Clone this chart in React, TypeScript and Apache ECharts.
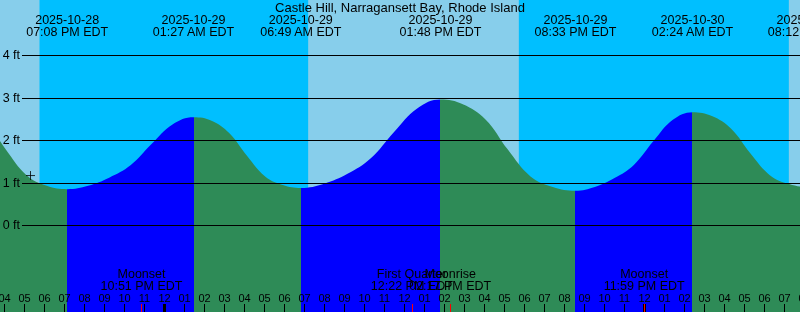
import { useEffect, useRef } from "react";
import * as echarts from "echarts";

const TITLE = "Castle Hill, Narragansett Bay, Rhode Island";

// High / low tide events (EDT wall-clock) and heights in ft
const extremeTimes = [
  "2025-10-28 13:02",
  "2025-10-28 19:08",
  "2025-10-29 01:27",
  "2025-10-29 06:49",
  "2025-10-29 13:48",
  "2025-10-29 20:33",
  "2025-10-30 02:24",
  "2025-10-30 08:12",
];
const extremeHeights = [2.9, 0.85, 2.54, 0.88, 2.96, 0.81, 2.66, 0.9];

// Tide curve readings (events plus points read between them), ft
const curveTimes = [
  "2025-10-28 12:00",
  "2025-10-28 13:02", "2025-10-28 14:03", "2025-10-28 15:04", "2025-10-28 16:05", "2025-10-28 17:06", "2025-10-28 18:07",
  "2025-10-28 19:08", "2025-10-28 20:11", "2025-10-28 21:14", "2025-10-28 22:18", "2025-10-28 23:21", "2025-10-29 00:24",
  "2025-10-29 01:27", "2025-10-29 02:21", "2025-10-29 03:14", "2025-10-29 04:08", "2025-10-29 05:02", "2025-10-29 05:55",
  "2025-10-29 06:49", "2025-10-29 07:59", "2025-10-29 09:09", "2025-10-29 10:18", "2025-10-29 11:28", "2025-10-29 12:38",
  "2025-10-29 13:48", "2025-10-29 14:55", "2025-10-29 16:03", "2025-10-29 17:10", "2025-10-29 18:18", "2025-10-29 19:25",
  "2025-10-29 20:33", "2025-10-29 21:31", "2025-10-29 22:30", "2025-10-29 23:28", "2025-10-30 00:27", "2025-10-30 01:25",
  "2025-10-30 02:24", "2025-10-30 03:22", "2025-10-30 04:20", "2025-10-30 05:18", "2025-10-30 06:16", "2025-10-30 07:14",
  "2025-10-30 08:12",
  "2025-10-30 09:17",
];
const curveHeights = [
  2.7,
  2.9, 2.8, 2.45, 1.77, 1.18, 0.93,
  0.85, 0.93, 1.12, 1.41, 1.91, 2.37,
  2.54, 2.46, 2.17, 1.63, 1.15, 0.95,
  0.88, 0.98, 1.21, 1.57, 2.19, 2.75,
  2.96, 2.85, 2.49, 1.78, 1.15, 0.9,
  0.81, 0.9, 1.11, 1.42, 1.98, 2.48,
  2.66, 2.57, 2.27, 1.69, 1.18, 0.97,
  0.9,
  1.0,
];

// Night (sunset -> sunrise)
const nightStart = ["2025-10-28 17:45", "2025-10-29 17:43"];
const nightEnd = ["2025-10-29 07:11", "2025-10-30 07:13"];

// Moon events
const moonNames = ["Moonset", "First Quarter", "Moonrise", "Moonset"];
const moonTimes = ["2025-10-28 22:51", "2025-10-29 12:22", "2025-10-29 14:17", "2025-10-29 23:59"];

// "+" mark
const markTime = "2025-10-28 17:18";
const markLevel = 1.17;

// Level ticks (ft)
const levelTicks = [0, 1, 2, 3, 4];

const FONT = "Liberation Sans";
const BLUE = "#0000FF";
const GREEN = "#2E8B57";
const DAY = "#87CEEB";
const NIGHT = "#00BFFF";

// axis window in hours since 2025-10-29 00:00 EDT
const X_MIN = -8.225;
const X_MAX = X_MIN + 42; // grid extends 40px past right edge
const Y_MIN = -2.04;
const Y_MAX = 5.3;

const REF = Date.UTC(2025, 9, 29, 0, 0);
function toH(s: string): number {
  const y = +s.slice(0, 4);
  const mo = +s.slice(5, 7);
  const d = +s.slice(8, 10);
  const hh = +s.slice(11, 13);
  const mm = +s.slice(14, 16);
  return (Date.UTC(y, mo - 1, d, hh, mm) - REF) / 3600000;
}
const pad = (n: number) => String(n).padStart(2, "0");
function fmtTime(s: string): string {
  const hh = +s.slice(11, 13);
  const mm = s.slice(14, 16);
  const ap = hh >= 12 ? "PM" : "AM";
  const h12 = hh % 12 === 0 ? 12 : hh % 12;
  return `${pad(h12)}:${mm} ${ap} EDT`;
}

export default function App() {
  const ref = useRef<HTMLDivElement>(null);
  useEffect(() => {
    document.body.style.margin = "0";
    if (!ref.current) return;
    const chart = echarts.init(ref.current, undefined, { renderer: "svg" });

    const extH = extremeTimes.map(toH);
    const tideData = curveTimes.map((t, i) => [toH(t), curveHeights[i]]);
    const moonH = moonTimes.map(toH);
    const hourTicks: number[] = [];
    for (let h = Math.ceil(X_MIN); h <= Math.floor(X_MAX); h++) hourTicks.push(h);
    const midnights = hourTicks.filter((h) => ((h % 24) + 24) % 24 === 0);

    const pieces = extH.slice(0, -1).map((h, i) => {
      const p: any = {
        color: extremeHeights[i + 1] > extremeHeights[i] ? BLUE : GREEN,
      };
      if (i > 0) p.gte = h;
      if (i < extH.length - 2) p.lt = extH[i + 1];
      return p;
    });

    const txt = { color: "#000", fontFamily: FONT };
    const noLine = { show: false, onZero: false };
    const hiddenX = (grid: number) => ({
      gridIndex: grid, type: "value", min: X_MIN, max: X_MAX, show: false, axisLine: noLine,
    });

    const tickLines = [
      ...hourTicks.map((h) => ({ xAxis: h, lineStyle: { color: "#000", width: 1, type: "solid" } })),
      ...midnights.map((h) => ({ xAxis: h, lineStyle: { color: "#000", width: 3, type: "solid" } })),
      ...moonH.map((h) => ({ xAxis: h, lineStyle: { color: "#FF0000", width: 1, type: "solid" } })),
    ];

    chart.setOption({
      animation: false,
      title: {
        text: TITLE,
        left: "center",
        top: 1,
        padding: 0,
        textStyle: { ...txt, fontSize: 13, fontWeight: "normal", lineHeight: 13 },
      },
      grid: [
        {
          left: 0, right: -40, top: 0, bottom: 0,
          show: true, backgroundColor: DAY, borderWidth: 0,
          containLabel: false, outerBoundsMode: "none",
        },
        {
          left: 22, right: 0, top: 55.3, height: 170,
          containLabel: false, outerBoundsMode: "none",
        },
        {
          left: 0, right: -40, top: 304, height: 8,
          containLabel: false, outerBoundsMode: "none",
        },
      ],
      visualMap: [
        { type: "piecewise", show: false, dimension: 0, seriesIndex: 0, pieces },
      ],
      xAxis: [
        {
          gridIndex: 0, type: "value", min: X_MIN, max: X_MAX, position: "bottom", z: 10,
          axisLine: noLine, splitLine: { show: false }, axisTick: { show: false },
          axisLabel: {
            show: true, inside: true, margin: 8.5, customValues: hourTicks,
            showMinLabel: true, showMaxLabel: true,
            formatter: (v: number) => {
              const hod = ((Math.round(v) % 24) + 24) % 24;
              return pad(hod % 12 === 0 ? 12 : hod % 12);
            },
            ...txt, fontSize: 11, lineHeight: 12,
          },
        },
        {
          gridIndex: 0, type: "value", min: X_MIN, max: X_MAX, position: "bottom", z: 12,
          axisLine: noLine, splitLine: { show: false }, axisTick: { show: false },
          axisLabel: {
            show: true, inside: true, margin: 20.5, customValues: moonH,
            showMinLabel: true, showMaxLabel: true,
            formatter: (v: number) => {
              const i = moonH.findIndex((m) => Math.abs(m - v) < 1e-6);
              return i < 0 ? "" : `${moonNames[i]}\n${fmtTime(moonTimes[i])}`;
            },
            ...txt, fontSize: 12.5, lineHeight: 12,
          },
        },
        {
          gridIndex: 0, type: "value", min: X_MIN, max: X_MAX, position: "top", z: 10,
          axisLine: noLine, splitLine: { show: false }, axisTick: { show: false },
          axisLabel: {
            show: true, inside: true, margin: 13.6, customValues: extH,
            showMinLabel: true, showMaxLabel: true,
            formatter: (v: number) => {
              const i = extH.findIndex((m) => Math.abs(m - v) < 1e-6);
              return i < 0 ? "" : `${extremeTimes[i].slice(0, 10)}\n${fmtTime(extremeTimes[i])}`;
            },
            ...txt, fontSize: 12.5, lineHeight: 12,
          },
        },
        hiddenX(1),
        hiddenX(2),
      ],
      yAxis: [
        { gridIndex: 0, type: "value", min: Y_MIN, max: Y_MAX, show: false, axisLine: noLine },
        {
          gridIndex: 1, type: "value", min: levelTicks[0], max: levelTicks[levelTicks.length - 1], interval: 1, z: 10,
          axisLine: noLine, axisTick: { show: false },
          splitLine: { show: true, lineStyle: { color: "#000", width: 1 } },
          axisLabel: { formatter: "{value} ft", margin: 2, ...txt, fontSize: 12.5 },
        },
        { gridIndex: 2, type: "value", min: 0, max: 1, show: false, axisLine: noLine },
      ],
      series: [
        {
          type: "line", xAxisIndex: 0, yAxisIndex: 0, z: 2,
          data: tideData, smooth: 0.4, symbol: "none",
          lineStyle: { width: 0, opacity: 0 },
          areaStyle: { opacity: 1, origin: "start" },
          silent: true,
        },
        {
          type: "line", xAxisIndex: 0, yAxisIndex: 0, z: 1, data: [], silent: true,
          markArea: {
            silent: true,
            itemStyle: { color: NIGHT, borderWidth: 0 },
            label: { show: false },
            data: nightStart.map((s, i) => [{ xAxis: toH(s) }, { xAxis: toH(nightEnd[i]) }]),
          },
        },
        {
          type: "scatter", xAxisIndex: 0, yAxisIndex: 0, z: 5, silent: true,
          data: [[toH(markTime), markLevel]],
          symbol: "path://M0,5H10M5,0V10", symbolSize: 9,
          itemStyle: { color: "rgba(0,0,0,0)", borderColor: "#000", borderWidth: 1 },
        },
        {
          type: "line", xAxisIndex: 4, yAxisIndex: 2, z: 6, data: [], silent: true,
          markLine: {
            silent: true,
            symbol: ["none", "none"],
            label: { show: false },
            data: tickLines,
          },
        },
      ],
    });
    return () => chart.dispose();
  }, []);
  return (
    <div
      ref={ref}
      style={{ position: "fixed", left: 0, top: 0, width: 800, height: 312 }}
    />
  );
}
